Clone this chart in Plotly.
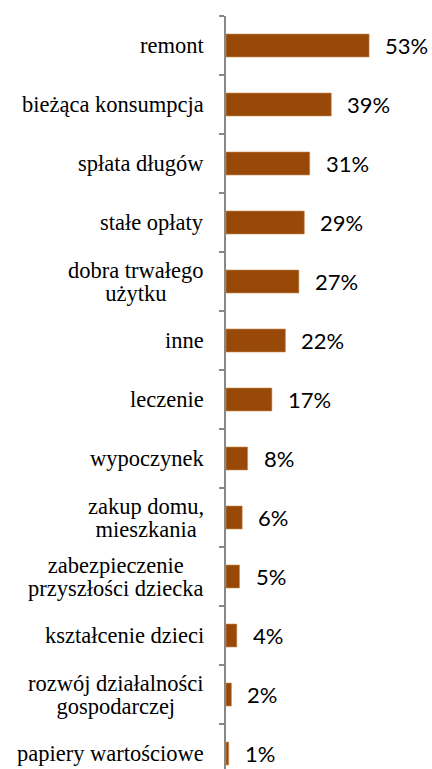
import plotly.graph_objects as go

categories = [
    "remont",
    "bieżąca konsumpcja",
    "spłata długów",
    "stałe opłaty",
    "dobra trwałego<br>użytku",
    "inne",
    "leczenie",
    "wypoczynek",
    "zakup domu,<br>mieszkania",
    "zabezpieczenie<br>przyszłości dziecka",
    "kształcenie dzieci",
    "rozwój działalności<br>gospodarczej",
    "papiery wartościowe",
]
values = [53, 39, 31, 29, 27, 22, 17, 8, 6, 5, 4, 2, 1]
value_labels = [f"{v}%" for v in values]

W, H = 432, 769
CAT_SIZE = 22.5
LINE_GAP = 23.0
SERIF = "Liberation Serif, Times New Roman, serif"

fig = go.Figure()
fig.add_trace(go.Bar(
    x=values,
    y=categories,
    orientation="h",
    width=0.39,
    marker=dict(color="#984807", line=dict(color="#c98d5a", width=0.6)),
    hoverinfo="skip",
))

annotations = []
for c, v, t in zip(categories, values, value_labels):
    annotations.append(dict(
        x=v, y=c, xref="x", yref="y", text=t, showarrow=False,
        xanchor="left", yanchor="middle", xshift=14,
        font=dict(family="Lato", size=22, color="#000000"),
    ))
    styled = "<br>".join(
        f'<span style="font-size:{CAT_SIZE}px;font-family:{SERIF}">{part}</span>'
        for part in c.split("<br>")
    )
    annotations.append(dict(
        x=0, y=c, xref="x", yref="y", text=styled, showarrow=False,
        xanchor="right", yanchor="middle", xshift=-20, align="center",
        font=dict(family=SERIF, size=LINE_GAP / 1.3, color="#000000"),
    ))

px_per_cat = 59.0
top_margin = 16
plot_h = H - top_margin
bottom = -0.5 + plot_h / px_per_cat

fig.update_layout(
    width=W, height=H,
    margin=dict(l=226, r=0, t=top_margin, b=0, pad=0),
    paper_bgcolor="white", plot_bgcolor="white",
    showlegend=False,
    annotations=annotations,
    xaxis=dict(range=[0, (W - 226) / 2.7], visible=False),
    yaxis=dict(
        type="category",
        categoryorder="array", categoryarray=categories,
        range=[bottom, -0.5],
        showticklabels=False, showgrid=False, zeroline=False,
        showline=True, linecolor="#888888", linewidth=1.5,
        ticks="outside", ticklen=5, tickcolor="#888888", tickwidth=1.5,
        tickson="boundaries",
    ),
)

fig.write_html(
    "out.html",
    config={"displayModeBar": False},
    post_script="document.body.style.margin='0';document.body.style.overflow='hidden';",
)
